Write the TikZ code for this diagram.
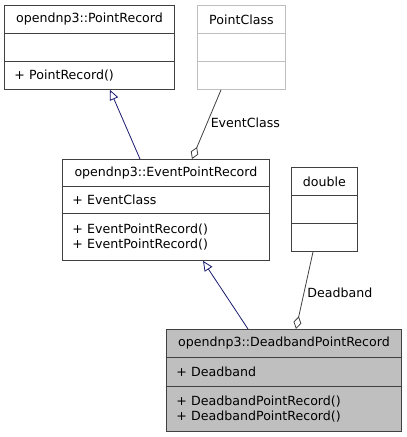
\documentclass[tikz,border=0pt]{standalone}
\usepackage{fontspec}
\newfontfamily\umlfont{DejaVu Sans}
\usetikzlibrary{arrows.meta}
\definecolor{boxline}{HTML}{404040}
\definecolor{boxgray}{HTML}{BFBFBF}
\definecolor{inhline}{HTML}{191970}
\tikzset{
  part/.style={draw=boxline, line width=0.9pt, anchor=north west, inner xsep=0pt, inner ysep=0pt,
    font=\umlfont\fontsize{12.6}{14.5}\selectfont},
  head/.style 2 args={part, text width=#1pt, minimum height=#2pt, align=center},
  body/.style 2 args={part, text width=#1pt, minimum height=#2pt, inner xsep=10pt, align=left},
  faint/.style={draw=boxgray},
  inherit/.style={draw=inhline, line width=0.8pt, -{Triangle[open, length=10pt, width=9pt]}},
  aggr/.style={draw=boxline, line width=0.8pt, {Diamond[open, length=13pt, width=8pt]}-},
  role/.style={font=\umlfont\fontsize{12.6}{14.5}\selectfont, inner sep=3pt}
}
\begin{document}
\begin{tikzpicture}[x=1pt, y=-1pt]
  \useasboundingbox (0,0) rectangle (407,437);
  % opendnp3::PointRecord
  \node[head={170}{28}] (pr) at (4,5) {opendnp3::PointRecord};
  \node[body={150}{28}] (pr-a) at (4,33) {};
  \node[body={150}{28}] (pr-m) at (4,61) {+ PointRecord()};
  % PointClass
  \node[head={88}{28}, faint] (pc) at (197,5) {PointClass};
  \node[body={68}{28}, faint] (pc-a) at (197,33) {};
  \node[body={68}{28}, faint] (pc-m) at (197,61) {};
  % opendnp3::EventPointRecord
  \node[head={207}{27}] (epr) at (62,159) {opendnp3::EventPointRecord};
  \node[body={187}{27}] (epr-a) at (62,186) {+ EventClass};
  \node[body={187}{47}] (epr-m) at (62,213) {+ EventPointRecord()\\+ EventPointRecord()};
  % double
  \node[head={66}{28}] (dbl) at (291,167) {double};
  \node[body={46}{28}] (dbl-a) at (291,195) {};
  \node[body={46}{28}] (dbl-m) at (291,223) {};
  % opendnp3::DeadbandPointRecord
  \begin{scope}[every node/.append style={fill=boxgray}]
    \node[head={235}{28}] (dpr) at (166,329) {opendnp3::DeadbandPointRecord};
    \node[body={215}{29}] (dpr-a) at (166,357) {+ Deadband};
    \node[body={215}{45}] (dpr-m) at (166,386) {+ DeadbandPointRecord()\\+ DeadbandPointRecord()};
  \end{scope}
  % relations
  \draw[inherit] ([xshift=78pt]epr.north west) -- ([xshift=106pt]pr-m.south west);
  \draw[aggr] ([xshift=130pt]epr.north west) -- node[role, right, pos=0.53] {EventClass} ([xshift=24pt]pc-m.south west);
  \draw[inherit] ([xshift=82pt]dpr.north west) -- ([xshift=141pt]epr-m.south west);
  \draw[aggr] ([xshift=130pt]dpr.north west) -- node[role, right, pos=0.47] {Deadband} ([xshift=22pt]dbl-m.south west);
\end{tikzpicture}
\end{document}
